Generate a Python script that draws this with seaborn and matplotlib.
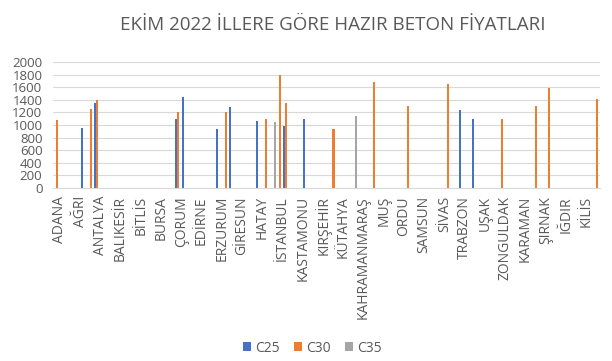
import numpy as np
import pandas as pd
import matplotlib
matplotlib.use("Agg")
import matplotlib.pyplot as plt
import matplotlib.transforms as mtransforms
import seaborn as sns

# 81 provinces by plate number
provinces = ["ADANA", "ADIYAMAN", "AFYONKARAHİSAR", "AĞRI", "AMASYA", "ANKARA", "ANTALYA",
             "ARTVİN", "AYDIN", "BALIKESİR", "BİLECİK", "BİNGÖL", "BİTLİS", "BOLU", "BURDUR",
             "BURSA", "ÇANAKKALE", "ÇANKIRI", "ÇORUM", "DENİZLİ", "DİYARBAKIR", "EDİRNE",
             "ELAZIĞ", "ERZİNCAN", "ERZURUM", "ESKİŞEHİR", "GAZİANTEP", "GİRESUN", "GÜMÜŞHANE",
             "HAKKARİ", "HATAY", "ISPARTA", "MERSİN", "İSTANBUL", "İZMİR", "KARS", "KASTAMONU",
             "KAYSERİ", "KIRKLARELİ", "KIRŞEHİR", "KOCAELİ", "KONYA", "KÜTAHYA", "MALATYA",
             "MANİSA", "KAHRAMANMARAŞ", "MARDİN", "MUĞLA", "MUŞ", "NEVŞEHİR", "NİĞDE", "ORDU",
             "RİZE", "SAKARYA", "SAMSUN", "SİİRT", "SİNOP", "SİVAS", "TEKİRDAĞ", "TOKAT",
             "TRABZON", "TUNCELİ", "ŞANLIURFA", "UŞAK", "VAN", "YOZGAT", "ZONGULDAK", "AKSARAY",
             "BAYBURT", "KARAMAN", "KIRIKKALE", "BATMAN", "ŞIRNAK", "BARTIN", "ARDAHAN", "IĞDIR",
             "YALOVA", "KARABÜK", "KİLİS", "OSMANİYE", "DÜZCE"]

c25 = {"AMASYA": 950, "ANTALYA": 1350, "ÇORUM": 1100, "DENİZLİ": 1450, "ERZURUM": 940,
       "GAZİANTEP": 1280, "HATAY": 1060, "İZMİR": 990, "KAYSERİ": 1100, "TRABZON": 1240,
       "ŞANLIURFA": 1100}
c30 = {"ADANA": 1080, "ANKARA": 1250, "ANTALYA": 1400, "ÇORUM": 1200, "ESKİŞEHİR": 1200,
       "ISPARTA": 1100, "İSTANBUL": 1800, "İZMİR": 1350, "KONYA": 940, "MUĞLA": 1690,
       "RİZE": 1310, "TEKİRDAĞ": 1660, "ZONGULDAK": 1100, "BATMAN": 1300, "BARTIN": 1590,
       "DÜZCE": 1410}
c35 = {"MERSİN": 1050, "MANİSA": 1150}

series = ["C25", "C30", "C35"]
colors = ["#4472C4", "#ED7D31", "#A5A5A5"]

rows = []
for name, d in zip(series, [c25, c30, c35]):
    for il, v in d.items():
        rows.append({"il": il, "tip": name, "fiyat": v})
df = pd.DataFrame(rows)

sns.set_style("white")
plt.rcParams["font.family"] = ["Open Sans", "DejaVu Sans"]

fig = plt.figure(figsize=(6.12, 3.61), dpi=100)
ax = fig.add_axes([0.0874, 0.48, 0.893, 0.3474])

sns.barplot(data=df, x="il", y="fiyat", hue="tip", order=provinces, hue_order=series,
            palette=colors, width=0.9, errorbar=None, ax=ax, legend=True,
            linewidth=0, saturation=1)

ax.set_ylim(0, 2000)
ax.set_yticks(range(0, 2001, 200))
ax.set_xlim(-0.5, len(provinces) - 0.5)
ax.set_xticks(range(0, len(provinces), 3))
ax.set_xticklabels(provinces[::3], rotation=90, fontsize=10, color="#595959")
ax.tick_params(axis="y", labelsize=9.5, labelcolor="#595959", length=0, pad=8)
ax.tick_params(axis="x", length=0, pad=6)
shift = mtransforms.ScaledTranslation(3 / 100, 0, fig.dpi_scale_trans)
for t in ax.get_xticklabels():
    t.set_transform(t.get_transform() + shift)
ax.set_xlabel("")
ax.set_ylabel("")
ax.grid(axis="y", color="#d9d9d9", linewidth=0.8)
ax.set_axisbelow(True)
for s in ["top", "right", "left"]:
    ax.spines[s].set_visible(False)
ax.spines["bottom"].set_color("#d9d9d9")

fig.suptitle("EKİM 2022 İLLERE GÖRE HAZIR BETON FİYATLARI", x=0.543, y=0.955,
             fontsize=13.5, color="#595959")

h, l = ax.get_legend_handles_labels()
ax.legend(h, l, loc="lower center", bbox_to_anchor=(0.51, -0.02), bbox_transform=fig.transFigure,
          ncol=3, frameon=False, fontsize=10, labelcolor="#595959", handlelength=0.6,
          handleheight=0.6, handletextpad=0.3, columnspacing=1.0)

fig.savefig("out.png", dpi=100)
